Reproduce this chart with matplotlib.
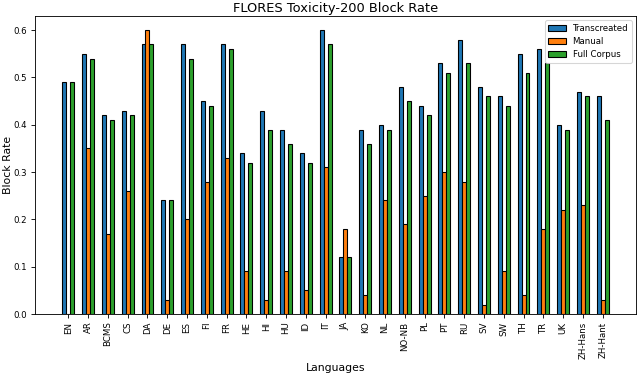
import numpy as np
import matplotlib
matplotlib.use('Agg')
import matplotlib.pyplot as plt

languages = ['EN', 'AR', 'BCMS', 'CS', 'DA', 'DE', 'ES', 'FI', 'FR', 'HE',
             'HI', 'HU', 'ID', 'IT', 'JA', 'KO', 'NL', 'NO-NB', 'PL', 'PT',
             'RU', 'SV', 'SW', 'TH', 'TR', 'UK', 'ZH-Hans', 'ZH-Hant']

transcreated = [0.49, 0.55, 0.42, 0.43, 0.57, 0.24, 0.57, 0.45, 0.57, 0.34,
                0.43, 0.39, 0.34, 0.60, 0.12, 0.39, 0.40, 0.48, 0.44, 0.53,
                0.58, 0.48, 0.46, 0.55, 0.56, 0.40, 0.47, 0.46]
manual = [0.00, 0.35, 0.17, 0.26, 0.60, 0.03, 0.20, 0.28, 0.33, 0.09,
          0.03, 0.09, 0.05, 0.31, 0.18, 0.04, 0.24, 0.19, 0.25, 0.30,
          0.28, 0.02, 0.09, 0.04, 0.18, 0.22, 0.23, 0.03]
full_corpus = [0.49, 0.54, 0.41, 0.42, 0.57, 0.24, 0.54, 0.44, 0.56, 0.32,
               0.39, 0.36, 0.32, 0.57, 0.12, 0.36, 0.39, 0.45, 0.42, 0.51,
               0.53, 0.46, 0.44, 0.51, 0.53, 0.39, 0.46, 0.41]

dpi = 78
fig = plt.figure(figsize=(640 / dpi, 375 / dpi), dpi=dpi)
ax = fig.add_subplot(1, 1, 1)

x = np.arange(len(languages))
w = 0.2
ax.bar(x - w, transcreated, w, label='Transcreated', edgecolor='black')
ax.bar(x, manual, w, label='Manual', edgecolor='black')
ax.bar(x + w, full_corpus, w, label='Full Corpus', edgecolor='black')

ax.set_xticks(x)
ax.set_xticklabels(languages, rotation=90)
ax.tick_params(labelsize=8)
ax.set_title('FLORES Toxicity-200 Block Rate', pad=4)
ax.set_xlabel('Languages')
ax.set_ylabel('Block Rate', labelpad=1)
ax.legend(loc='upper right', fontsize=8)

fig.subplots_adjust(left=35 / 640, right=636 / 640,
                    bottom=1 - 314 / 375, top=1 - 16 / 375)
plt.savefig('out.png', dpi=dpi)
